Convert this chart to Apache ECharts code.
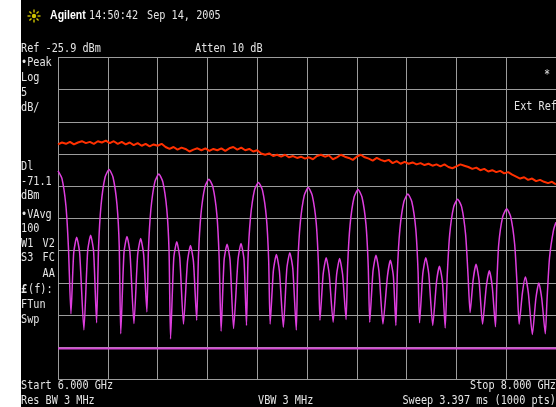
<!DOCTYPE html>
<html lang="en">
<head>
<meta charset="UTF-8">
<title>Agilent spectrum</title>
<style>
  html, body { margin: 0; padding: 0; background: #fff; }
  #chart { position: absolute; left: 21px; top: 0; width: 535px; height: 407px; background: #000; }
</style>
</head>
<body>
<div id="chart"></div>
<script src="https://cdn.jsdelivr.net/npm/echarts@6/dist/echarts.min.js"></script>
<script>
// sweep / display settings
var startGHz = 6.0, stopGHz = 8.0;
var refLevel = -25.9, dbPerDiv = 5, divisions = 10;
var dlLevel = -71.1;

// red trace (peak), one value every 0.016 GHz from 6.000 GHz
var redStep = 0.016;
var redLevel = [
  -39.4, -39.1, -39.3, -39.0, -39.4, -39.1, -38.9, -39.2, -39.0, -39.3,
  -38.9, -39.1, -38.8, -39.2, -38.9, -39.3, -39.0, -39.4, -39.1, -39.5,
  -39.2, -39.6, -39.3, -39.7, -39.4, -39.6, -39.3, -39.8, -40.1, -39.8,
  -40.2, -39.9, -40.1, -40.5, -40.2, -40.0, -40.3, -40.0, -40.4, -40.1,
  -40.3, -40.0, -40.4, -40.0, -39.8, -40.2, -39.9, -40.3, -40.1, -40.5,
  -40.3, -40.8, -41.0, -40.8, -41.2, -41.0, -41.3, -41.0, -41.4, -41.2,
  -41.5, -41.3, -41.6, -41.4, -41.7, -41.2, -41.0, -41.3, -41.1, -41.7,
  -41.4, -41.0, -41.3, -41.5, -41.8, -41.3, -41.0, -41.4, -41.6, -41.9,
  -41.5, -41.8, -42.0, -41.8, -42.3, -42.0, -42.4, -42.1, -42.4, -42.2,
  -42.5, -42.3, -42.6, -42.4, -42.7, -42.5, -42.8, -42.5, -42.9, -43.1,
  -42.8, -42.5, -42.7, -42.9, -43.2, -43.0, -43.4, -43.2, -43.6, -43.4,
  -43.7, -43.5, -43.9, -43.7, -44.1, -44.4, -44.7, -44.5, -44.9, -44.7,
  -45.1, -44.9, -45.2, -45.4, -45.2, -45.6
];

// magenta trace (video average), lobes
var magFreq = [
  6.000, 6.016, 6.032, 6.042, 6.052, 6.063, 6.075, 6.087, 6.104, 6.119, 6.131, 6.143, 6.155, 6.163, 6.173, 6.189,
  6.205, 6.221, 6.237, 6.246, 6.252, 6.265, 6.277, 6.289, 6.305, 6.320, 6.332, 6.344, 6.357, 6.363, 6.373, 6.389,
  6.405, 6.421, 6.437, 6.446, 6.452, 6.465, 6.477, 6.489, 6.504, 6.520, 6.532, 6.544, 6.557, 6.564, 6.574, 6.590,
  6.606, 6.622, 6.638, 6.647, 6.655, 6.667, 6.679, 6.691, 6.705, 6.723, 6.735, 6.747, 6.757, 6.763, 6.773, 6.789,
  6.805, 6.821, 6.837, 6.846, 6.852, 6.865, 6.877, 6.889, 6.905, 6.919, 6.931, 6.943, 6.957, 6.963, 6.973, 6.989,
  7.005, 7.021, 7.037, 7.046, 7.052, 7.065, 7.077, 7.089, 7.105, 7.119, 7.131, 7.143, 7.157, 7.163, 7.173, 7.189,
  7.205, 7.221, 7.237, 7.246, 7.252, 7.265, 7.277, 7.289, 7.305, 7.323, 7.335, 7.347, 7.357, 7.363, 7.373, 7.389,
  7.405, 7.421, 7.437, 7.446, 7.452, 7.465, 7.477, 7.489, 7.505, 7.520, 7.532, 7.544, 7.555, 7.563, 7.573, 7.589,
  7.605, 7.621, 7.637, 7.647, 7.655, 7.667, 7.679, 7.691, 7.705, 7.720, 7.732, 7.744, 7.757, 7.762, 7.770, 7.786,
  7.802, 7.818, 7.834, 7.844, 7.852, 7.865, 7.877, 7.889, 7.905, 7.919, 7.931, 7.943, 7.957, 7.964, 7.974, 7.990,
  8.000
];
var magLevel = [
  -43.5, -44.7, -49.0, -55.5, -65.7, -56.3, -53.8, -56.3, -68.2, -56.0, -53.5, -56.0, -67.1, -55.3, -48.8, -44.5,
  -43.3, -44.5, -48.8, -55.3, -68.8, -56.2, -53.7, -56.2, -67.2, -56.5, -54.0, -56.5, -65.4, -56.0, -49.5, -45.2,
  -44.0, -45.2, -49.5, -56.0, -69.6, -57.0, -54.5, -57.0, -67.3, -57.6, -55.1, -57.6, -66.7, -56.8, -50.3, -46.0,
  -44.8, -46.0, -50.3, -56.8, -68.4, -57.4, -54.9, -57.4, -68.0, -57.3, -54.8, -57.3, -67.5, -57.3, -50.8, -46.5,
  -45.3, -46.5, -50.8, -57.3, -67.3, -59.0, -56.5, -59.0, -67.8, -58.7, -56.2, -58.7, -68.2, -58.1, -51.6, -47.3,
  -46.1, -47.3, -51.6, -58.1, -66.7, -59.5, -57.0, -59.5, -67.0, -59.6, -57.1, -59.6, -66.6, -58.4, -51.9, -47.6,
  -46.4, -47.6, -51.9, -58.4, -67.0, -59.1, -56.6, -59.1, -67.3, -59.9, -57.4, -59.9, -67.5, -59.1, -52.6, -48.3,
  -47.1, -48.3, -52.6, -59.1, -67.1, -59.5, -57.0, -59.5, -67.5, -60.8, -58.3, -60.8, -67.9, -59.9, -53.4, -49.1,
  -47.9, -49.1, -53.4, -59.9, -65.5, -60.5, -58.0, -60.5, -67.3, -61.5, -59.0, -61.5, -67.7, -61.4, -54.9, -50.6,
  -49.4, -50.6, -54.9, -61.4, -67.3, -62.5, -60.0, -62.5, -68.9, -63.4, -60.9, -63.4, -68.8, -63.5, -57.0, -52.7,
  -51.5
];

var OX = 21; // left edge of the black screen on the page
var MONO = "12px 'DejaVu Sans Mono'";
var TXT = '#e4e4e4';

// screen annotations: [text, pageX, pageY, align]
var labels = [
  ['14:50:42', 89, 16], ['Sep 14, 2005', 147, 16],
  ['Ref -25.9 dBm', 21, 49], ['Atten 10 dB', 195, 49],
  ['\u2022Peak', 21, 63], ['Log', 21, 78], ['5', 21, 93], ['dB/', 21, 108],
  ['Dl', 21, 167], ['-71.1', 21, 182], ['dBm', 21, 196],
  ['\u2022VAvg', 21, 215], ['100', 21, 229],
  ['W1', 21, 244], ['V2', 42.5, 244], ['S3', 21, 258], ['FC', 42.5, 258], ['AA', 42.5, 274],
  ['(f):', 28, 290], ['FTun', 21, 305], ['Swp', 21, 320],
  ['*', 544, 75], ['Ext Ref', 514, 107],
  ['Start 6.000 GHz', 21, 386], ['Stop 8.000 GHz', 556, 386, 'right'],
  ['Res BW 3 MHz', 21, 401], ['VBW 3 MHz', 258, 401],
  ['Sweep 3.397 ms (1000 pts)', 556, 401, 'right']
];

function txt(s, x, y, align, font, color, sx) {
  return {
    type: 'text', x: x - OX, y: y, scaleX: sx || 0.85, z: 10,
    style: {
      text: s, fill: color || TXT, font: font || MONO,
      textAlign: align || 'left', textVerticalAlign: 'middle',
      align: align || 'left', verticalAlign: 'middle'
    }
  };
}

var graphics = labels.map(function (l) { return txt(l[0], l[1], l[2], l[3]); });
graphics.push(txt('Agilent', 50, 16, 'left', "bold 12px 'Liberation Sans'", '#ffffff', 0.88));
graphics.push(txt('\u00a3', 21, 290, 'left', "bold 12px 'DejaVu Sans Mono'", TXT));

// sun logo
var sun = [{ type: 'circle', shape: { cx: 0, cy: 0, r: 2.2 }, style: { fill: '#cfc400' } }];
for (var a = 0; a < 8; a++) {
  var t = a * Math.PI / 4;
  sun.push({
    type: 'line',
    shape: { x1: Math.cos(t) * 3.5, y1: Math.sin(t) * 3.5, x2: Math.cos(t) * 6.5, y2: Math.sin(t) * 6.5 },
    style: { stroke: '#cfc400', lineWidth: 1.4 }
  });
}
graphics.push({ type: 'group', x: 34 - OX, y: 16, children: sun });

var redData = redLevel.map(function (v, i) { return [startGHz + i * redStep, v]; });
var magData = magFreq.map(function (f, i) { return [f, magLevel[i]]; });

var gridAxis = {
  type: 'value', min: 0, max: divisions, interval: 1,
  axisLabel: { show: false }, axisTick: { show: false }, axisLine: { show: false },
  splitLine: { show: true, lineStyle: { color: '#9c9c9c', width: 1 } }
};

var chart = echarts.init(document.getElementById('chart'));
chart.setOption({
  animation: false,
  backgroundColor: '#000',
  grid: { left: 58 - OX, top: 57.5, width: 500, height: 322 },
  xAxis: [
    { type: 'value', min: startGHz, max: stopGHz, show: false },
    Object.assign({ position: 'bottom' }, gridAxis)
  ],
  yAxis: [
    { type: 'value', min: refLevel - dbPerDiv * divisions, max: refLevel, show: false },
    Object.assign({ position: 'left' }, gridAxis)
  ],
  graphic: graphics,
  series: [
    {
      name: 'Peak', type: 'line', xAxisIndex: 0, yAxisIndex: 0,
      data: redData, showSymbol: false,
      lineStyle: { color: '#ff3000', width: 2 }, z: 3
    },
    {
      name: 'VAvg', type: 'line', xAxisIndex: 0, yAxisIndex: 0,
      data: magData, showSymbol: false, smooth: 0.2,
      lineStyle: { color: '#de3ede', width: 1.5 }, z: 4
    },
    {
      name: 'DL', type: 'line', xAxisIndex: 0, yAxisIndex: 0,
      data: [[startGHz, dlLevel], [stopGHz, dlLevel]], showSymbol: false,
      lineStyle: { color: '#d848d8', width: 2 }, z: 4
    }
  ]
});
</script>
</body>
</html>
